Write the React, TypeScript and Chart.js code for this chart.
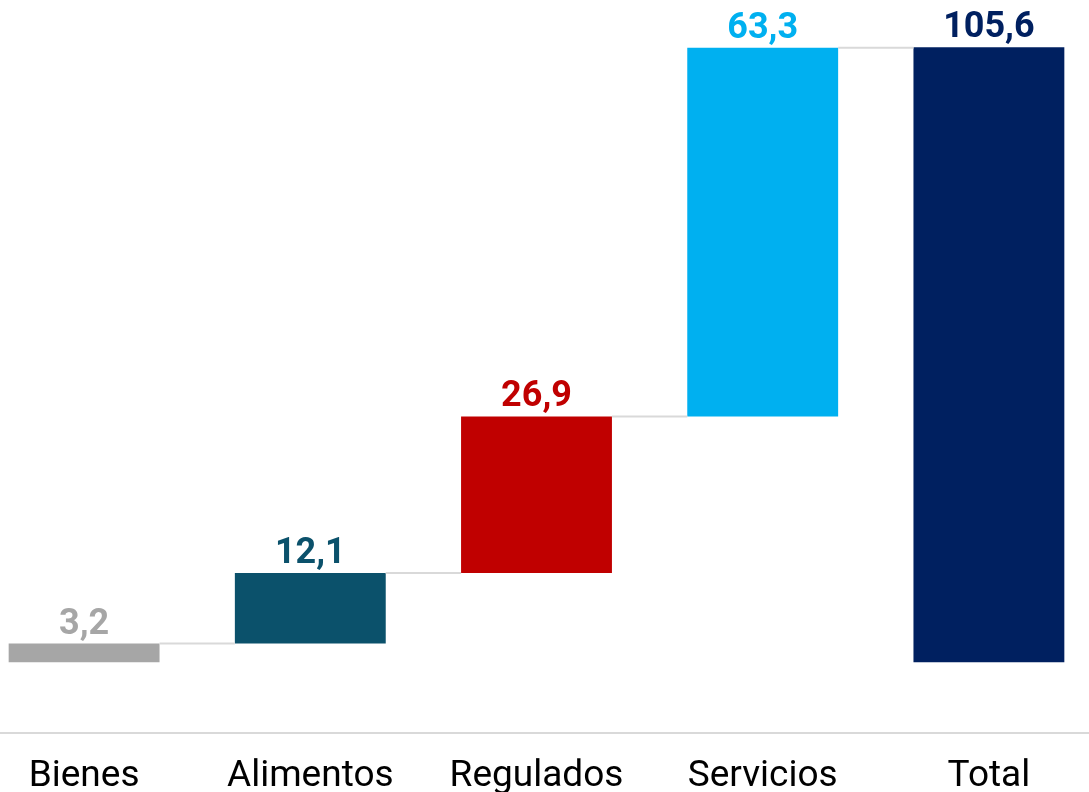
import React, { useEffect, useRef } from "react";
import { Chart, registerables } from "chart.js";

Chart.register(...registerables);

const categories = ["Bienes", "Alimentos", "Regulados", "Servicios", "Total"];
const contributions = [3.2, 12.1, 26.9, 63.3];
const totalValue = 105.6;
const barColors = ["#a6a6a6", "#0b516b", "#c00000", "#00b0f0", "#002060"];
const yMin = -12.1;
const yMax = 113.7;

function fmt(v: number) {
  return v.toFixed(1).replace(".", ",");
}

export default function App() {
  const ref = useRef<HTMLCanvasElement | null>(null);

  useEffect(() => {
    if (!ref.current) return;
    const ranges: [number, number][] = [];
    let acc = 0;
    contributions.forEach((v) => {
      ranges.push([acc, acc + v]);
      acc += v;
    });
    ranges.push([0, totalValue]);
    const labelValues = [...contributions, totalValue];

    const overlay = {
      id: "overlay",
      afterDatasetsDraw(chart: any) {
        const ctx = chart.ctx;
        const meta = chart.getDatasetMeta(0);
        const y = chart.scales.y;
        ctx.save();
        // connectors
        ctx.strokeStyle = "#d9d9d9";
        ctx.lineWidth = 2;
        for (let i = 0; i < meta.data.length - 1; i++) {
          const a = meta.data[i] as any;
          const b = meta.data[i + 1] as any;
          const yy = y.getPixelForValue(ranges[i][1]);
          ctx.beginPath();
          ctx.moveTo(a.x + a.width / 2, yy);
          ctx.lineTo(b.x - b.width / 2, yy);
          ctx.stroke();
        }
        // labels
        ctx.font = "bold 36px Roboto";
        ctx.textAlign = "center";
        ctx.textBaseline = "alphabetic";
        meta.data.forEach((el: any, i: number) => {
          const top = y.getPixelForValue(ranges[i][1]);
          ctx.fillStyle = barColors[i];
          ctx.fillText(fmt(labelValues[i]), el.x, top - 10);
        });
        ctx.restore();
      },
    };

    const chart = new Chart(ref.current, {
      type: "bar",
      data: {
        labels: categories,
        datasets: [
          {
            data: ranges as any,
            backgroundColor: barColors,
            borderWidth: 0,
            categoryPercentage: 1,
            barPercentage: 0.667,
          },
        ],
      },
      options: {
        animation: false,
        responsive: false,
        devicePixelRatio: 1,
        layout: { padding: 0 },
        plugins: { legend: { display: false }, tooltip: { enabled: false } },
        scales: {
          x: {
            grid: { display: false, drawTicks: false },
            border: { display: true, color: "#d9d9d9", width: 2 },
            ticks: {
              color: "#000000",
              font: { family: "Roboto", size: 37 },
              padding: 22,
              maxRotation: 0,
            },
          },
          y: {
            display: false,
            min: yMin,
            max: yMax,
          },
        },
      },
      plugins: [overlay],
    });
    return () => chart.destroy();
  }, []);

  return (
    <div
      style={{
        position: "fixed",
        left: 0,
        top: 0,
        width: 1089,
        height: 792,
        overflow: "hidden",
        background: "#ffffff",
      }}
    >
      <canvas
        ref={ref}
        width={1131}
        height={821}
        style={{ position: "absolute", left: -28.6, top: 0, width: 1131, height: 821 }}
      />
    </div>
  );
}
